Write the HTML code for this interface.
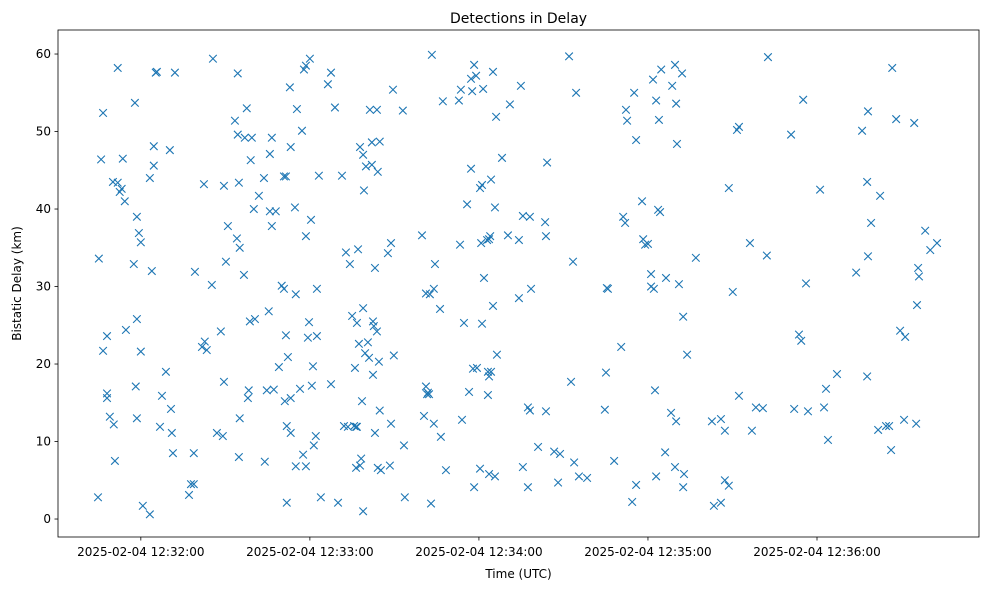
<!DOCTYPE html>
<html><head><meta charset="utf-8">
<style>
html,body{margin:0;padding:0;background:#fff;}
body{width:989px;height:590px;overflow:hidden;font-family:"Liberation Sans","DejaVu Sans",sans-serif;}
text{font-family:"DejaVu Sans","Liberation Sans",sans-serif;fill:#000;}
</style></head>
<body>
<svg id="chart" width="989" height="590" xmlns="http://www.w3.org/2000/svg"></svg>
<script>
// seconds after 12:31:00
const times = [44.8,45.1,45.9,46.6,46.6,48.0,48.0,48.0,49.0,50.1,50.4,50.8,51.8,51.8,52.5,53.2,53.6,54.3,54.7,57.5,57.9,58.2,58.6,58.6,58.6,59.3,60,60,60.7,63.2,63.2,63.9,64.6,64.6,65.3,65.7,66.8,67.5,68.9,70.3,70.7,71,71.4,72.1,77.1,77.8,78.8,78.8,79.2,81.7,82.4,82.7,83.4,85.2,85.6,87,88.4,89.1,89.5,89.5,90.2,90.9,93.4,94.1,94.4,94.4,94.8,94.8,95.1,95.1,96.6,96.9,97.6,98,98.3,98.7,99,99.4,100.1,100.5,101.9,103.7,104,104.7,105.4,105.8,105.8,106.5,106.5,107.2,107.9,109,110,110.8,110.8,111.1,111.5,111.5,111.8,111.8,112.2,112.9,113.2,113.2,113.2,114.7,115,115,115.4,116.5,117.2,117.6,117.9,118.6,118.6,118.6,119.3,119.7,120,120.4,120.7,121.1,121.4,122.1,122.5,122.5,123.2,123.9,126.4,127.5,127.5,128.9,130,131.4,132.1,132.8,133.5,134.2,135,135.7,136,136.4,136.4,136.7,136.7,137.1,137.4,137.8,137.8,138.2,138.5,138.9,138.9,138.9,139.2,139.6,139.9,140.6,141,141.3,142,142,142.4,142.4,142.7,143.1,143.1,143.8,143.8,144.1,144.1,144.5,144.8,144.8,145.2,147.7,148.4,148.8,148.8,149.5,149.8,153,153.4,153.7,159.8,160.5,161.2,161.2,161.6,161.9,162.3,162.6,163,163.3,164,164,164.4,166.2,166.5,167.2,168.3,172.9,173.3,173.6,174,174.7,175.8,176.5,177.2,177.2,177.6,177.9,178.3,178.3,179,179.3,180.4,180.4,180.8,181.1,181.1,181.5,181.8,182.9,183.2,183.2,183.6,183.6,183.6,184,184.3,184.3,185,185,185.7,186.1,185.7,186.4,188.2,190.3,191,194.2,194.2,194.9,195.6,195.6,197.4,197.4,198.1,198.1,198.5,201,203.5,203.8,204.2,203.8,206.7,208.1,208.8,212,212.7,213.4,213.8,214.5,215.5,218.4,224.7,225.1,225.4,225.8,228,230.5,231.2,231.9,232.2,232.6,234.4,235.1,235.8,235.8,237.9,238.3,239,240,241.1,241.1,241.8,242.1,242.5,242.9,242.9,243.6,243.9,244.3,244.7,246.1,246.4,248.2,248.6,249.6,250,250,249.6,250.3,251,252.5,252.5,252.1,252.8,253.9,257,262.7,263.4,265.9,265.9,267.3,267.3,268.7,268.7,270.1,271.6,272.3,272.3,276.2,276.9,278.3,280.8,282.2,282.6,290.8,291.9,293.6,294.4,295.1,296.1,296.8,301.1,302.5,303.2,303.9,307.1,313.9,316,317.8,317.8,318.1,318.1,319.2,321.7,322.4,324.5,325.6,326.3,326.7,328.1,329.5,331.3,330.9,334.5,335.2,335.5,335.9,336.2,338.4,340.2,342.6];
const delays = [2.8,33.6,46.4,52.4,21.7,16.2,15.6,23.6,13.2,43.5,12.2,7.5,43.4,58.2,42.2,42.6,46.5,41,24.4,32.9,53.7,17.1,25.8,39,13,36.9,35.7,21.6,1.7,44,0.6,32,45.6,48.1,57.6,57.7,11.9,15.9,19,47.6,14.2,11.1,8.5,57.6,3.1,4.5,4.5,8.5,31.9,22.2,43.2,22.9,21.8,30.2,59.4,11.1,24.2,10.7,17.7,43,33.2,37.8,51.4,36.2,57.5,49.6,43.4,8,35,13,31.5,49.2,53,15.6,16.6,25.5,46.3,49.2,40,25.8,41.7,44,7.4,16.6,26.8,47.1,39.7,49.2,37.8,16.7,39.7,19.6,30.1,44.2,29.7,15.2,44.2,23.7,12.0,2.1,20.9,55.7,11.1,48,15.6,40.2,6.8,29,52.9,16.8,50.1,8.3,58,36.5,6.8,58.5,23.4,25.4,59.4,38.6,17.2,19.7,9.5,10.7,23.6,29.7,44.3,2.8,56.1,17.4,57.6,53.1,2.1,44.3,12,34.4,11.9,32.9,26.2,12,19.5,11.9,6.6,11.9,25.3,34.8,22.6,6.9,48,7.8,15.2,47,1.0,27.2,42.4,21.4,45.5,22.8,20.8,52.8,48.6,45.7,18.6,25.5,24.9,32.4,11.1,24.2,52.8,44.8,6.6,20.3,14.0,48.7,6.3,34.3,6.9,12.3,35.6,55.4,21.1,52.7,9.5,2.8,36.6,13.3,29.1,17.1,16.1,16.3,16.1,29,2,59.9,29.7,12.3,32.9,27.1,10.6,53.9,6.3,54,35.4,55.4,12.8,25.3,40.6,16.4,56.8,45.2,55.2,19.4,58.6,4.1,57.2,19.5,42.7,6.5,35.6,43.1,25.2,55.5,31.1,36,16,19,18.4,5.8,36.1,36.5,19,43.8,27.5,57.7,5.5,51.9,40.2,21.2,46.6,36.6,53.5,28.5,36,55.9,39.1,6.7,4.1,14.4,14,39,29.7,9.3,38.3,36.5,46,13.9,8.7,4.7,8.4,59.7,17.7,33.2,7.3,55,5.5,5.3,14.1,18.9,29.8,29.7,7.5,22.2,39,38.2,52.8,51.4,2.2,55,4.4,48.9,41,36.1,35.4,35.5,31.6,30,56.7,29.7,16.6,54,5.5,39.9,51.5,39.6,58,8.6,31.1,13.7,55.9,6.7,12.6,53.6,58.6,48.4,30.3,26.1,4.1,57.5,5.8,21.2,33.7,12.6,1.7,2.1,12.9,11.4,5.0,42.7,4.3,29.3,50.2,50.6,15.9,35.6,11.4,14.4,14.3,34,59.6,49.6,14.2,23.8,23,54.1,30.4,13.9,42.5,14.4,16.8,10.2,18.7,31.8,50.1,43.5,18.4,52.6,33.9,38.2,11.5,41.7,12,12,8.9,58.2,51.6,24.3,23.5,12.8,51.1,12.3,27.6,32.4,31.3,37.2,34.7,35.6,49.8,13.3];
const xTickSecs = [60,120,180,240,300];
const xTickLabels = ["2025-02-04 12:32:00","2025-02-04 12:33:00","2025-02-04 12:34:00","2025-02-04 12:35:00","2025-02-04 12:36:00"];
const yTicks = [0,10,20,30,40,50,60];

const NS="http://www.w3.org/2000/svg";
const svg=document.getElementById('chart');
const L=58,T=30,W=921,H=507;
const xMin=30.6,xMax=357.5,yMin=-2.32,yMax=63.1;
function xs(v){return L+(v-xMin)/(xMax-xMin)*W;}
function ys(v){return T+H-(v-yMin)/(yMax-yMin)*H;}
function mk(tag,attrs){const e=document.createElementNS(NS,tag);for(const k in attrs)e.setAttribute(k,attrs[k]);svg.appendChild(e);return e;}

const frame=mk('rect',{x:L,y:T,width:W,height:H,fill:'none',stroke:'#000','stroke-width':0.8});



for(let i=0;i<yTicks.length;i++){
  const y=ys(yTicks[i]);
  const t=mk('line',{x1:L-3.5,x2:L,y1:y,y2:y,stroke:'#000','stroke-width':0.8});
  
  
  const lb=mk('text',{x:L-7,y:y+4,'text-anchor':'end','font-size':12});
  lb.textContent=yTicks[i];
  
  
}
for(let i=0;i<xTickSecs.length;i++){
  const x=xs(xTickSecs[i]);
  const t=mk('line',{x1:x,x2:x,y1:T+H,y2:T+H+3.5,stroke:'#000','stroke-width':0.8});
  
  
  const lb=mk('text',{x:x,y:T+H+19,'text-anchor':'middle','font-size':12});
  lb.textContent=xTickLabels[i];
  
  
}
const g=document.createElementNS(NS,'g');


svg.appendChild(g);
const n=Math.min(times.length,delays.length);
for(let i=0;i<n;i++){
  const x=xs(times[i]),y=ys(delays[i]),s=3.8;
  const p=document.createElementNS(NS,'path');
  p.setAttribute('d',`M${x-s},${y-s}L${x+s},${y+s}M${x-s},${y+s}L${x+s},${y-s}`);
  p.setAttribute('stroke','#1f77b4');
  p.setAttribute('stroke-width','1.1');
  p.setAttribute('fill','none');
  
  
  g.appendChild(p);
}
const title=mk('text',{x:L+W/2,y:23,'text-anchor':'middle','font-size':14});
title.textContent='Detections in Delay';


const xl=mk('text',{x:L+W/2,y:578,'text-anchor':'middle','font-size':12});
xl.textContent='Time (UTC)';


const yl=mk('text',{x:21,y:T+H/2,'text-anchor':'middle','font-size':12,transform:`rotate(-90 21 ${T+H/2})`});
yl.textContent='Bistatic Delay (km)';


</script>
</body></html>
